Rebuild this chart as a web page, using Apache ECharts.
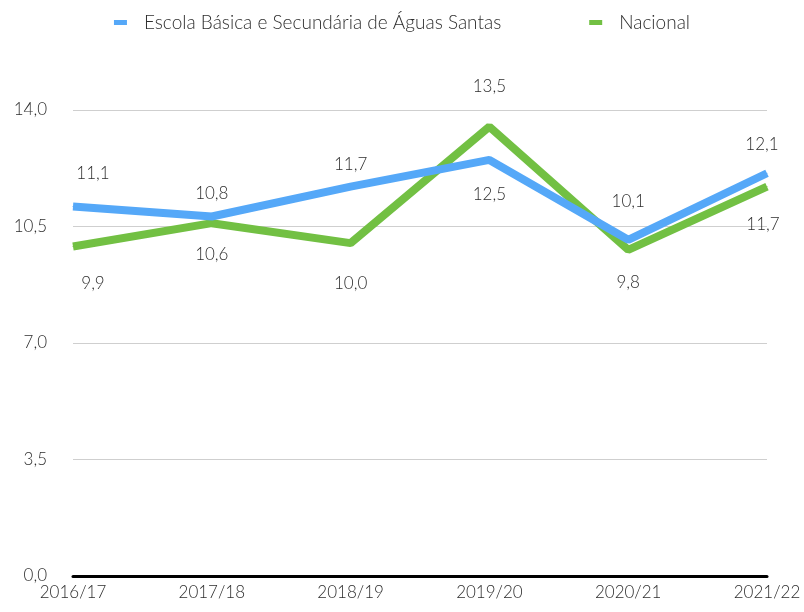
<!DOCTYPE html>
<html>
<head>
<meta charset="utf-8">
<script src="https://cdn.jsdelivr.net/npm/echarts@6/dist/echarts.min.js"></script>
<style>
  html, body { margin: 0; padding: 0; background: #fff; }
  #main { width: 804px; height: 612px; }
</style>
</head>
<body>
<div id="main"></div>
<script>
var categories = ['2016/17', '2017/18', '2018/19', '2019/20', '2020/21', '2021/22'];
var escolaValues = [11.1, 10.8, 11.7, 12.5, 10.1, 12.1];
var nacionalValues = [9.9, 10.6, 10.0, 13.5, 9.8, 11.7];
var seriesNames = ['Escola Básica e Secundária de Águas Santas', 'Nacional'];

var font = 'Lato';
var textColor = '#2e2e2e';

function fmt(v) {
  return v.toFixed(1).replace('.', ',');
}

// rótulos: posição por ponto (como no Excel)
var escolaLabels = [
  { position: 'top', distance: 24, offset: [20, 0] },
  { position: 'top', distance: 14 },
  { position: 'top', distance: 13 },
  { position: 'bottom', distance: 26 },
  { position: 'top', distance: 29 },
  { position: 'top', distance: 20, offset: [-5, 0] }
];
var nacionalLabels = [
  { position: 'bottom', distance: 28, offset: [20, 0] },
  { position: 'bottom', distance: 22 },
  { position: 'bottom', distance: 31 },
  { position: 'top', distance: 31 },
  { position: 'bottom', distance: 24 },
  { position: 'bottom', distance: 29, offset: [-4, 0] }
];

function buildData(values, labels) {
  return values.map(function (v, i) {
    return { value: v, label: labels[i] };
  });
}

function lineSeries(name, values, labels, color, z) {
  return {
    name: name,
    type: 'line',
    data: buildData(values, labels),
    symbol: 'circle',
    symbolSize: 1,
    showSymbol: true,
    z: z,
    lineStyle: { color: color, width: 8 },
    itemStyle: { color: color },
    label: {
      show: true, fontFamily: font, fontWeight: 300, fontSize: 17, color: textColor,
      formatter: function (p) { return fmt(p.value); }
    }
  };
}

var option = {
  animation: false,
  backgroundColor: '#fff',
  textStyle: { fontFamily: font, fontWeight: 300, color: textColor },
  legend: {
    top: 8,
    left: 'center',
    itemWidth: 13,
    itemHeight: 5,
    itemGap: 88,
    icon: 'rect',
    textStyle: { fontFamily: font, fontWeight: 300, fontSize: 19, color: textColor, padding: [0, 0, 0, 12] },
    data: seriesNames
  },
  grid: { left: 73, right: 37, top: 110, bottom: 36 },
  xAxis: {
    type: 'category',
    boundaryGap: false,
    data: categories,
    axisLine: { lineStyle: { color: '#000', width: 3 } },
    axisTick: { show: false },
    axisLabel: { fontFamily: font, fontWeight: 300, fontSize: 17, color: textColor, margin: 8 }
  },
  yAxis: {
    type: 'value',
    min: 0,
    max: 14,
    interval: 3.5,
    axisLine: { show: false },
    axisTick: { show: false },
    splitLine: { lineStyle: { color: '#cfcfcf', width: 1 } },
    axisLabel: {
      fontFamily: font, fontWeight: 300, fontSize: 17, color: textColor,
      margin: 26,
      formatter: function (v) { return fmt(v); }
    }
  },
  series: [
    lineSeries(seriesNames[0], escolaValues, escolaLabels, '#55A8F8', 3),
    lineSeries(seriesNames[1], nacionalValues, nacionalLabels, '#72C043', 2)
  ]
};

var chart = echarts.init(document.getElementById('main'));
chart.setOption(option);
</script>
</body>
</html>
